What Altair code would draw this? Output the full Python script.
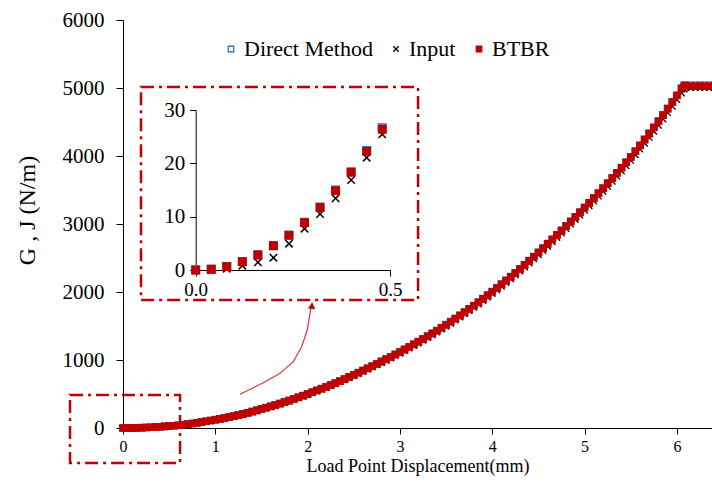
import altair as alt
import pandas as pd

series_names = ["Direct Method", "Input", "BTBR"]

# ---- main curve (load point displacement in mm, G/J in N/m) ----
main_x = [
    0.00, 0.05, 0.10, 0.15, 0.20, 0.25, 0.30, 0.35, 0.40, 0.45,
    0.50, 0.55, 0.60, 0.65, 0.70, 0.75, 0.80, 0.85, 0.90, 0.95,
    1.00, 1.05, 1.10, 1.15, 1.20, 1.25, 1.30, 1.35, 1.40, 1.45,
    1.50, 1.55, 1.60, 1.65, 1.70, 1.75, 1.80, 1.85, 1.90, 1.95,
    2.00, 2.05, 2.10, 2.15, 2.20, 2.25, 2.30, 2.35, 2.40, 2.45,
    2.50, 2.55, 2.60, 2.65, 2.70, 2.75, 2.80, 2.85, 2.90, 2.95,
    3.00, 3.05, 3.10, 3.15, 3.20, 3.25, 3.30, 3.35, 3.40, 3.45,
    3.50, 3.55, 3.60, 3.65, 3.70, 3.75, 3.80, 3.85, 3.90, 3.95,
    4.00, 4.05, 4.10, 4.15, 4.20, 4.25, 4.30, 4.35, 4.40, 4.45,
    4.50, 4.55, 4.60, 4.65, 4.70, 4.75, 4.80, 4.85, 4.90, 4.95,
    5.00, 5.05, 5.10, 5.15, 5.20, 5.25, 5.30, 5.35, 5.40, 5.45,
    5.50, 5.55, 5.60, 5.65, 5.70, 5.75, 5.80, 5.85, 5.90, 5.95,
    6.00, 6.05, 6.08, 6.10, 6.15, 6.20, 6.25, 6.30, 6.35, 6.40,
]

main_btbr = [
    0, 0.2, 1.0, 2.5, 4.6, 7.1, 10.3, 14.1, 18.3, 23.2,
    28.5, 34, 40.5, 48, 56.5, 66, 76, 87, 98.5, 110,
    122, 134, 147, 161, 175, 190, 206, 223, 240, 260,
    279, 298, 318, 338, 359, 381, 403, 426, 450, 475,
    500, 525, 551, 577, 604, 632, 660, 689, 719, 750,
    781, 812, 844, 876, 909, 942, 976, 1010, 1045, 1080,
    1116, 1153, 1191, 1229, 1268, 1308, 1348, 1389, 1431, 1474,
    1518, 1563, 1608, 1654, 1701, 1749, 1798, 1848, 1899, 1951,
    2004, 2058, 2113, 2168, 2224, 2281, 2339, 2398, 2458, 2519,
    2581, 2644, 2708, 2772, 2837, 2903, 2969, 3036, 3103, 3171,
    3240, 3310, 3381, 3453, 3526, 3600, 3675, 3751, 3828, 3906,
    3985, 4069, 4154, 4241, 4329, 4419, 4510, 4602, 4696, 4792,
    4890, 4990, 5030, 5025, 5025, 5025, 5025, 5025, 5025, 5025,
]

main_direct = [
    0, 0.2, 1.0, 2.6, 4.7, 7.2, 10.4, 14.2, 18.5, 23.4,
    28.7, 34, 41, 48.5, 57, 66.5, 76.5, 87.5, 99, 111,
    123, 135, 148, 162, 176, 191, 207, 224, 242, 261,
    280, 299, 319, 339, 360, 382, 405, 428, 452, 477,
    502, 527, 553, 579, 606, 634, 662, 691, 721, 752,
    783, 814, 846, 878, 911, 945, 979, 1013, 1048, 1083,
    1119, 1156, 1194, 1232, 1271, 1311, 1351, 1392, 1434, 1477,
    1521, 1566, 1611, 1657, 1704, 1752, 1801, 1851, 1902, 1954,
    2007, 2061, 2116, 2171, 2227, 2284, 2342, 2401, 2461, 2522,
    2584, 2647, 2711, 2775, 2840, 2906, 2972, 3039, 3106, 3174,
    3243, 3313, 3384, 3456, 3529, 3603, 3678, 3754, 3831, 3909,
    3988, 4072, 4157, 4244, 4332, 4422, 4513, 4605, 4699, 4795,
    4893, 4995, 5045, 5040, 5040, 5040, 5040, 5040, 5040, 5040,
]

main_input = [
    0, 0, 0.4, 1.0, 2.3, 5.6, 9.1, 12.7, 16.9, 22.0,
    27.5, 33, 39.5, 47, 55, 64.5, 74.5, 85, 96.5, 108,
    120, 131, 144, 158, 172, 186, 202, 219, 236, 255,
    274, 293, 312, 332, 353, 374, 396, 419, 442, 467,
    492, 516, 542, 568, 594, 622, 650, 678, 708, 738,
    769, 800, 831, 862, 895, 928, 961, 995, 1029, 1064,
    1099, 1136, 1173, 1211, 1249, 1289, 1328, 1369, 1410, 1453,
    1496, 1540, 1585, 1630, 1677, 1724, 1773, 1822, 1873, 1924,
    1977, 2030, 2084, 2139, 2194, 2251, 2308, 2366, 2426, 2486,
    2547, 2609, 2672, 2736, 2800, 2865, 2931, 2997, 3064, 3131,
    3199, 3268, 3338, 3409, 3481, 3554, 3628, 3703, 3779, 3856,
    3934, 4016, 4100, 4186, 4273, 4362, 4452, 4543, 4636, 4731,
    4828, 4926, 4985, 5005, 5005, 5005, 5005, 5005, 5005, 5005,
]

# ---- inset (zoom of the first 0.5 mm) ----
inset_x = [0, 0.04, 0.08, 0.12, 0.16, 0.20, 0.24, 0.28, 0.32, 0.36, 0.40, 0.44, 0.48]
inset_direct = [0, 0.15, 0.65, 1.6, 2.85, 4.6, 6.55, 8.95, 11.8, 15.0, 18.45, 22.4, 26.7]
inset_input = [0, 0, 0.25, 0.81, 1.44, 2.31, 4.94, 7.75, 10.5, 13.44, 16.88, 21.06, 25.44]
inset_btbr = [0, 0.13, 0.63, 1.56, 2.81, 4.56, 6.5, 8.88, 11.69, 14.88, 18.31, 22.25, 26.38]

# ---- annotation boxes and arrow (in main data units) ----
box_x0 = [0.195, -0.574]
box_x1 = [3.196, 0.618]
box_y0 = [1882, -515]
box_y1 = [5015, 485]
arrow_x = [1.268, 1.520, 1.701, 1.845, 1.935, 1.996, 2.026, 2.044]
arrow_y = [496, 666, 804, 975, 1196, 1441, 1686, 1834]
head_x = [2.046]
head_y = [1800]

xtitle = "Load Point Displacement(mm)"
ytitle = "G , J (N/m)"
FONT = "Liberation Serif"
RED = "#C00000"

def long_df(xs, d, i, b):
    rows = []
    for name, vals in zip(series_names, [d, i, b]):
        for xv, yv in zip(xs, vals):
            rows.append({"x": xv, "y": yv, "series": name})
    return pd.DataFrame(rows)

main_df = long_df(main_x, main_direct, main_input, main_btbr)
inset_df = long_df(inset_x, inset_direct, inset_input, inset_btbr)
box_df = pd.DataFrame({"x": box_x0, "x2": box_x1, "y": box_y0, "y2": box_y1})
arrow_df = pd.DataFrame({"x": arrow_x, "y": arrow_y, "o": list(range(len(arrow_x)))})
head_df = pd.DataFrame({"x": head_x, "y": head_y})

leg = alt.Legend(
    title=None, orient="none", legendX=97, legendY=18, direction="horizontal",
    labelFont=FONT, labelFontSize=22, labelColor="black", symbolSize=30,
    symbolStrokeWidth=1.3, labelOffset=2, columnPadding=12, padding=0,
)
shape_range = ["square", "M-1,-1L1,1M1,-1L-1,1", "square"]
stroke_range = ["#2E75B6", "#000000", RED]
fill_range = ["transparent", "transparent", RED]

enc = dict(
    shape=alt.Shape("series:N", scale=alt.Scale(domain=series_names, range=shape_range), legend=leg),
    stroke=alt.Stroke("series:N", scale=alt.Scale(domain=series_names, range=stroke_range), legend=leg),
    fill=alt.Fill("series:N", scale=alt.Scale(domain=series_names, range=fill_range), legend=leg),
)

xscale = alt.Scale(domain=[0, 6.38], nice=False, zero=False)
yscale = alt.Scale(domain=[0, 6000], nice=False)

xaxis = alt.Axis(
    values=[0, 1, 2, 3, 4, 5, 6], format="d", labelFlush=False, labelFontSize=16,
    tickSize=6, labelPadding=4, titleFontSize=18, titlePadding=3,
)
yaxis = alt.Axis(
    values=[0, 1000, 2000, 3000, 4000, 5000, 6000], format="d", labelFontSize=21,
    tickSize=7, labelPadding=12, titleFontSize=24, titleX=-96, titleY=190,
    titleBaseline="middle",
)

main_points = alt.Chart(main_df).mark_point(size=40, strokeWidth=1.3, opacity=1).encode(
    x=alt.X("x:Q", title=xtitle, scale=xscale, axis=xaxis),
    y=alt.Y("y:Q", title=ytitle, scale=yscale, axis=yaxis),
    **enc,
)

boxes = alt.Chart(box_df).mark_rect(
    fillOpacity=0, stroke=RED, strokeWidth=2.5, strokeDash=[13, 5, 3, 5]
).encode(
    x=alt.X("x:Q", title=xtitle), x2="x2:Q",
    y=alt.Y("y:Q", title=ytitle), y2="y2:Q",
)

arrow = alt.Chart(arrow_df).mark_line(color="#E03535", strokeWidth=1.2).encode(
    x=alt.X("x:Q", title=xtitle), y=alt.Y("y:Q", title=ytitle), order="o:Q"
)

head = alt.Chart(head_df).mark_point(
    shape="triangle-up", filled=True, size=55, color=RED, opacity=1, angle=6
).encode(x=alt.X("x:Q", title=xtitle), y=alt.Y("y:Q", title=ytitle))

main = alt.layer(boxes, arrow, head, main_points)

inset = alt.Chart(inset_df).mark_point(size=55, strokeWidth=1.5, opacity=1).encode(
    x=alt.X(
        "x:Q", title=None,
        scale=alt.Scale(domain=[0, 0.5], range=[72.7, 267], nice=False, zero=False),
        axis=alt.Axis(orient="bottom", offset=-158, values=[0, 0.5], format=".1f",
                      labelFlush=False, labelFontSize=19, tickSize=6, labelPadding=4,
                      title=None),
    ),
    y=alt.Y(
        "y:Q", title=None,
        scale=alt.Scale(domain=[0, 30], range=[250, 90], nice=False),
        axis=alt.Axis(orient="left", offset=-72.7, values=[0, 10, 20, 30], format="d",
                      labelFontSize=21, tickSize=6, labelPadding=5, title=None),
    ),
    **enc,
)

chart = alt.layer(main, inset).resolve_scale(
    x="independent", y="independent"
).properties(
    width=589, height=408,
    autosize=alt.AutoSizeParams(type="none"),
    padding={"left": 123, "top": 20, "right": 0, "bottom": 57},
).configure_view(stroke=None).configure_axis(
    labelFont=FONT, titleFont=FONT, labelColor="black", titleColor="black",
    titleFontWeight="normal", domainColor="black", tickColor="black", grid=False,
)

chart.save("out.html", embed_options={"renderer": "svg", "actions": False})
